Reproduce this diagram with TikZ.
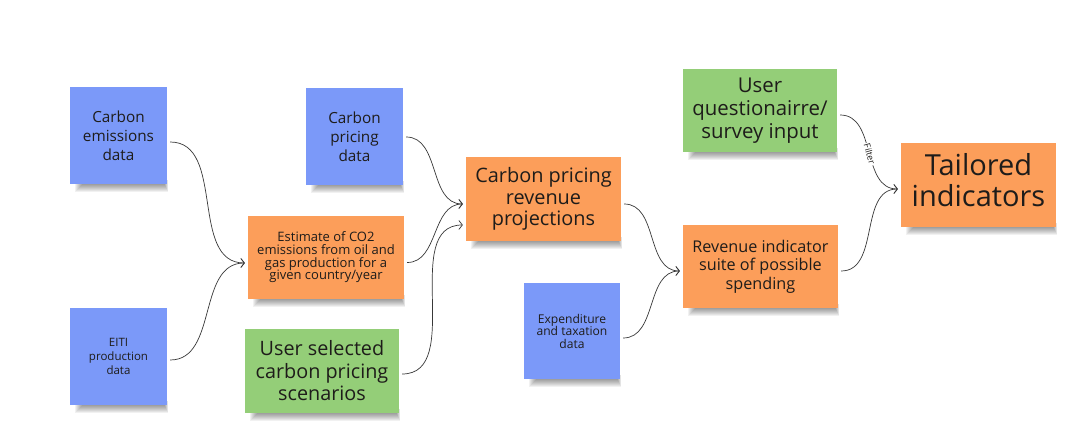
\documentclass[tikz,border=0pt]{standalone}
\usepackage{fontspec}
\setmainfont{Open Sans}
\usetikzlibrary{arrows.meta,backgrounds}
\definecolor{nblue}{RGB}{123,153,249}
\definecolor{norange}{RGB}{252,158,90}
\definecolor{ngreen}{RGB}{148,206,120}
\definecolor{ntext}{RGB}{30,28,26}
\tikzset{
  note/.style={draw=none, inner sep=0pt, align=center, text=ntext},
  bluenote/.style={note, fill=nblue, minimum width=97pt, minimum height=97pt},
  orangenote/.style={note, fill=norange, minimum width=155pt, minimum height=84pt},
  greennote/.style={note, fill=ngreen, minimum width=155pt, minimum height=84pt},
  link/.style={draw=black!78, line width=0.7pt, -{Straight Barb[length=3.5pt,width=9pt]}},
}
\newcommand\noteshadow[1]{%
  \foreach \k in {1,...,8}{%
    \fill[black,opacity=0.055] ([xshift={(13-\k)*1pt},yshift=4pt]#1.south west) rectangle ([xshift={(-3+0.5*\k)*1pt},yshift={-\k*1pt}]#1.south east);
  }}
\begin{document}
\begin{tikzpicture}[x=1pt,y=-1pt]
\useasboundingbox (0,0) rectangle (1069,430);

% notes
\node[bluenote, font=\fontsize{15.3}{19}\selectfont] (ce) at (118.5,135.5) {Carbon\\emissions\\data};
\node[bluenote, font=\fontsize{11.5}{14}\selectfont] (eiti) at (118.5,356.5) {EITI\\production\\data};
\node[bluenote, font=\fontsize{15.3}{19}\selectfont] (cpd) at (354.5,136.5) {Carbon\\pricing\\data};
\node[orangenote, minimum width=156pt, minimum height=83pt, font=\fontsize{13}{12.7}\selectfont] (est) at (326,257.5) {Estimate of CO2\\emissions from oil and\\gas production for a\\given country/year};
\node[greennote, minimum width=154pt, font=\fontsize{19.8}{22.5}\selectfont] (usel) at (322,371) {User selected\\carbon pricing\\scenarios};
\node[orangenote, font=\fontsize{19.9}{21.7}\selectfont] (cpr) at (543.5,199) {Carbon pricing\\revenue\\projections};
\node[bluenote, minimum width=96pt, minimum height=96pt, font=\fontsize{12.1}{12.5}\selectfont] (exp) at (572,331) {Expenditure\\and taxation\\data};
\node[orangenote, minimum height=83pt, font=\fontsize{16.2}{18.3}\selectfont] (rev) at (760.5,266.5) {Revenue indicator\\suite of possible\\spending};
\node[greennote, minimum width=154pt, minimum height=83pt, font=\fontsize{20.4}{23.3}\selectfont] (uq) at (760,110.5) {User\\questionairre/\\survey input};
\node[orangenote, font=\fontsize{29}{31.7}\selectfont, text depth=10pt] (ti) at (978.5,185) {Tailored\\indicators};

% shadows and background
\begin{scope}[on background layer]
\fill[white] (0,0) rectangle (1069,430);
\foreach \n in {ce,eiti,cpd,est,usel,cpr,exp,rev,uq,ti}{\noteshadow{\n}}
\end{scope}

% connectors
\draw[link] ([xshift=3pt,yshift=-6.5pt]ce.east) to[out=0,in=180] ([xshift=-3pt,yshift=-5.5pt]est.west);
\draw[link] ([xshift=3pt,yshift=-3.5pt]eiti.east) to[out=0,in=180] ([xshift=-3pt,yshift=-5.5pt]est.west);
\draw[link] ([xshift=3pt,yshift=-0.5pt]cpd.east) to[out=0,in=180] ([xshift=-3pt,yshift=-5pt]cpr.west);
\draw[link] ([xshift=3pt,yshift=-5pt]est.east) to[out=0,in=180] ([xshift=-3pt,yshift=-5pt]cpr.west);
\draw[link] ([xshift=3pt,yshift=-3pt]usel.east) to[out=0,in=180] ([xshift=-3pt,yshift=-26pt]cpr.west);
\draw[link] ([xshift=3pt,yshift=-5pt]cpr.east) to[out=0,in=180] ([xshift=-3pt,yshift=-4.5pt]rev.west);
\draw[link] ([xshift=3pt,yshift=-7pt]exp.east) to[out=0,in=180] ([xshift=-3pt,yshift=-4.5pt]rev.west);
\draw[link] ([xshift=3pt,yshift=-4.5pt]uq.east) to[out=0,in=180]
  node[pos=0.52, sloped, fill=white, inner sep=1pt, text=ntext, font=\fontsize{9}{10}\selectfont] {Filter}
  ([xshift=-3pt,yshift=-4pt]ti.west);
\draw[link] ([xshift=3pt,yshift=-4.5pt]rev.east) to[out=0,in=180] ([xshift=-3pt,yshift=-4pt]ti.west);
\end{tikzpicture}
\end{document}
